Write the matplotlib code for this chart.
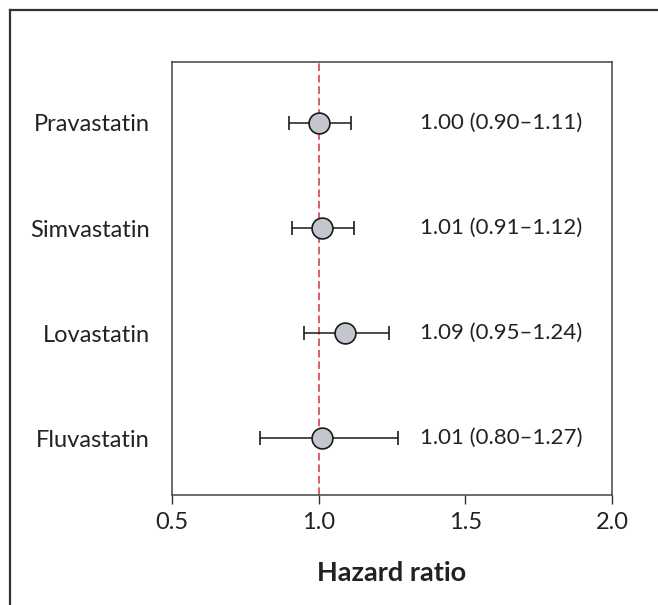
import matplotlib
matplotlib.use("Agg")
import matplotlib.pyplot as plt
from matplotlib.lines import Line2D

# data
drugs = ["Pravastatin", "Simvastatin", "Lovastatin", "Fluvastatin"]
hr = [1.00, 1.01, 1.09, 1.01]
lo = [0.90, 0.91, 0.95, 0.80]
hi = [1.11, 1.12, 1.24, 1.27]
labels = ["1.00 (0.90\u20131.11)", "1.01 (0.91\u20131.12)",
          "1.09 (0.95\u20131.24)", "1.01 (0.80\u20131.27)"]
xticks = [0.5, 1.0, 1.5, 2.0]

plt.rcParams['font.family'] = ['Lato', 'DejaVu Sans']

W, H = 658, 605
fig = plt.figure(figsize=(W / 100, H / 100), dpi=100)

# outer frame (top and left only)
fig.add_artist(Line2D([10 / W, 1.0], [1 - 10 / H, 1 - 10 / H],
                      transform=fig.transFigure, color="#333333", lw=1.6))
fig.add_artist(Line2D([10 / W, 10 / W], [0.0, 1 - 10 / H],
                      transform=fig.transFigure, color="#333333", lw=1.6))

# axes box
l, r, t, b = 172, 612, 62, 495
ax = fig.add_axes([l / W, 1 - b / H, (r - l) / W, (b - t) / H])

ypos = list(range(len(drugs)))
ax.axvline(1.0, color="#d8303f", lw=1.1, dashes=(5, 2.5), zorder=1)

xerr = [[h - a for h, a in zip(hr, lo)], [c - h for h, c in zip(hr, hi)]]
ax.errorbar(hr, ypos, xerr=xerr, fmt="o", ms=15, mfc="#c3c6cc",
            mec="#1a1a1a", mew=1.2, ecolor="#1a1a1a", elinewidth=1.1,
            capsize=5.3, capthick=1.1, zorder=3)

for y, s in zip(ypos, labels):
    ax.text(1.345, y, s, ha="left", va="center", fontsize=16, color="#222222")

ax.set_xlim(0.5, 2.0)
ax.set_ylim(3.54, -0.58)
ax.set_xticks(xticks)
ax.set_xticklabels([f"{v:.1f}" for v in xticks], fontsize=17, color="#222222")
ax.set_yticks(ypos)
ax.set_yticklabels(drugs, fontsize=17, color="#222222")
ax.tick_params(axis="y", length=0, pad=16)
ax.tick_params(axis="x", length=6.5, width=1.0, color="#333333", pad=6)
for sp in ax.spines.values():
    sp.set_color("#444444")
    sp.set_linewidth(1.1)

ax.set_xlabel("Hazard ratio", fontsize=19.5, fontweight="bold",
              color="#222222", labelpad=20)

fig.savefig("out.png", dpi=100)
